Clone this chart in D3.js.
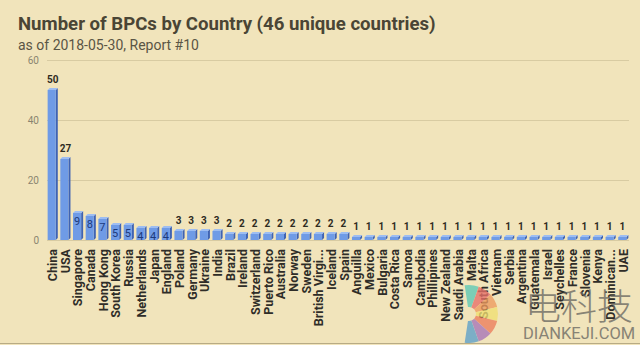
<!DOCTYPE html>
<html>
<head>
<meta charset="utf-8">
<script src="https://cdn.jsdelivr.net/npm/d3@7"></script>
<style>
  html, body { margin: 0; padding: 0; background: #f1e4bb; }
  svg { display: block; }
</style>
</head>
<body>
<svg id="chart" width="640" height="345"></svg>
<script>
// Number of BPCs registered per country
const countries = ["China","USA","Singapore","Canada","Hong Kong","South Korea","Russia","Netherlands","Japan","England","Poland","Germany","Ukraine","India","Brazil","Ireland","Switzerland","Puerto Rico","Australia","Norway","Sweden","British Virgi...","Iceland","Spain","Anguilla","Mexico","Bulgaria","Costa Rica","Samoa","Cambodia","Phillipines","New Zealand","Saudi Arabia","Malta","South Africa","Vietnam","Serbia","Argentina","Guatemala","Israel","Seychelles","France","Slovenia","Kenya","Dominican...","UAE"];
const bpcCounts = [50,27,9,8,7,5,5,4,4,4,3,3,3,3,2,2,2,2,2,2,2,2,2,2,1,1,1,1,1,1,1,1,1,1,1,1,1,1,1,1,1,1,1,1,1,1];
const yTicks = [0, 20, 40, 60];

const svg = d3.select("#chart");
const W = 640, H = 345;

svg.append("rect").attr("width", W).attr("height", H).attr("fill", "#f1e4bb");

// Titles
svg.append("text").attr("x", 18).attr("y", 30)
  .attr("font-family", "Roboto, sans-serif").attr("font-weight", 700).attr("font-size", 18.6)
  .attr("fill", "#4a4535").text("Number of BPCs by Country (46 unique countries)");
svg.append("text").attr("x", 18).attr("y", 50)
  .attr("font-family", "Roboto, sans-serif").attr("font-size", 14)
  .attr("fill", "#5a5545").text("as of 2018-05-30, Report #10");

const x = d3.scaleBand().domain(countries).range([47, 629]).paddingInner(0.2).paddingOuter(0.05);
const y = d3.scaleLinear().domain([0, 60]).range([240, 60]);

// Gridlines and y-axis labels
const yAxis = d3.axisLeft(y).tickValues(yTicks).tickSize(-(629 - 47)).tickPadding(8);
const gy = svg.append("g").attr("transform", "translate(47,0)").call(yAxis);
gy.select(".domain").remove();
gy.selectAll(".tick line").attr("stroke", "#d8cba2").attr("stroke-width", 1);
gy.selectAll(".tick text").attr("font-family", "Roboto, sans-serif").attr("font-size", 10)
  .attr("fill", "#8a8470");

// 3D-style bars: front face, right side, top
const depth = 2;
const bw = x.bandwidth() - depth;
const bars = svg.append("g");
countries.forEach((c, i) => {
  const v = bpcCounts[i];
  const x0 = x(c), yt = y(v), yb = y(0);
  bars.append("polygon")
    .attr("points", [[x0 + bw, yt], [x0 + bw + depth, yt - depth], [x0 + bw + depth, yb - depth], [x0 + bw, yb]].join(" "))
    .attr("fill", "#3f63b3");
  bars.append("polygon")
    .attr("points", [[x0, yt], [x0 + depth, yt - depth], [x0 + bw + depth, yt - depth], [x0 + bw, yt]].join(" "))
    .attr("fill", "#9dbdf2");
  bars.append("rect").attr("x", x0).attr("y", yt).attr("width", bw).attr("height", yb - yt)
    .attr("fill", "#6f9be6");
});

// Value labels: inside the top of mid-sized bars, above the others
countries.forEach((c, i) => {
  const v = bpcCounts[i];
  const inside = v >= 4 && v < 20;
  svg.append("text")
    .attr("x", x(c) + bw / 2 + (v >= 20 ? 1 : 0))
    .attr("y", inside ? y(v) + 12 : y(v) - 7)
    .attr("text-anchor", "middle")
    .attr("font-family", "Roboto, sans-serif")
    .attr("font-weight", inside ? 400 : 700)
    .attr("font-size", inside ? 11 : 10)
    .attr("fill", inside ? "#1d3a7c" : "#2e2b22")
    .text(v);
});

// Category labels
const xAxis = d3.axisBottom(x).tickSize(0).tickPadding(0);
const gx = svg.append("g").attr("transform", "translate(0,249)").call(xAxis);
gx.select(".domain").remove();
gx.selectAll(".tick text")
  .attr("transform", "rotate(-90)")
  .attr("text-anchor", "end")
  .attr("x", 0).attr("y", 0).attr("dx", 0).attr("dy", "0.35em")
  .attr("font-family", "Roboto, sans-serif").attr("font-weight", 700).attr("font-size", 12.5)
  .attr("fill", "#2f2d28");

// Bottom frame edge
svg.append("line").attr("x1", 0).attr("x2", W).attr("y1", 343.5).attr("y2", 343.5)
  .attr("stroke", "#b8ab85").attr("stroke-width", 1);

// Site mark in the lower right corner
const mark = svg.append("g").attr("opacity", 0.78);
const petals = ["#5cc9b5", "#e86f68", "#ee9a5e", "#f0df72", "#ec7d5c", "#a874b8", "#5c9fca"];
const arc = d3.arc().innerRadius(7).outerRadius(29);
const pie = d3.pie().value(1).sort(null).startAngle(-0.15).endAngle(Math.PI + 0.15);
mark.append("g").attr("transform", "translate(469,314)")
  .selectAll("path").data(pie(petals)).join("path")
  .attr("d", arc).attr("fill", d => d.data);
mark.append("text").attr("x", 525).attr("y", 320)
  .attr("font-family", "'Noto Sans CJK SC', sans-serif").attr("font-size", 36).attr("font-weight", 300)
  .attr("fill", "#6a6862").text("电科技");
mark.append("text").attr("x", 523).attr("y", 339)
  .attr("font-family", "Roboto, sans-serif").attr("font-size", 16.5)
  .attr("fill", "#6a6862").text("DIANKEJI.COM");
</script>
</body>
</html>
